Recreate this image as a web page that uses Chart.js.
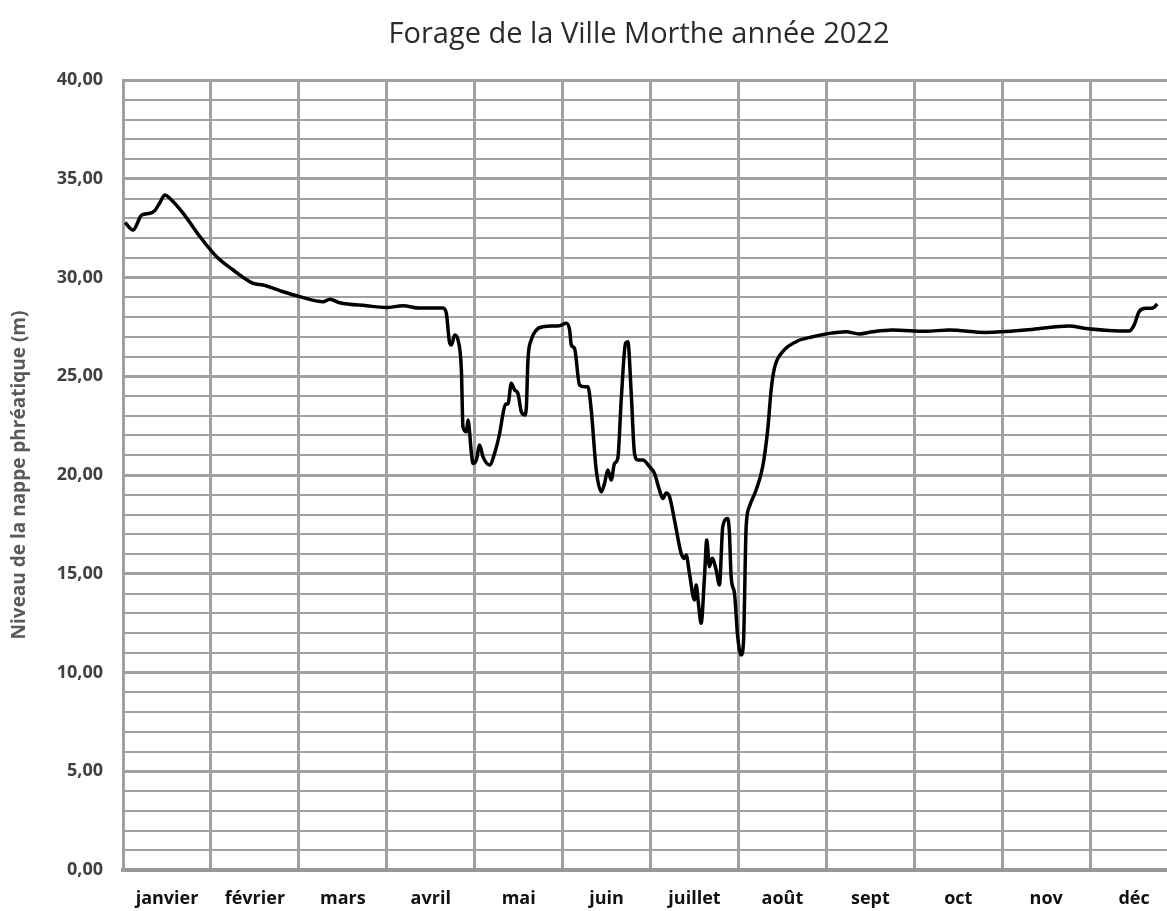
<!DOCTYPE html>
<html lang="fr">
<head>
<meta charset="utf-8">
<title>Forage de la Ville Morthe année 2022</title>
<script src="https://cdn.jsdelivr.net/npm/chart.js@4.4.1/dist/chart.umd.min.js"></script>
<style>
  html, body { margin: 0; padding: 0; background: #fff; overflow: hidden; }
  #cadre { position: relative; width: 1196px; height: 911px; }
</style>
</head>
<body>
<div id="cadre"><canvas id="graphique"></canvas></div>
<script>
// libellés des mois (centrés dans chaque colonne)
const moisLabels = ["janvier", "février", "mars", "avril", "mai", "juin",
  "juillet", "août", "sept", "oct", "nov", "déc"];

// position dans l'année, en mois écoulés depuis le 1er janvier
const mois = [
  0.023, 0.114, 0.213, 0.307, 0.364, 0.420, 0.477, 0.534, 0.685, 0.875,
  1.065, 1.253, 1.481, 1.594, 1.821, 2.011, 2.276, 2.352, 2.466, 2.769,
  2.997, 3.185, 3.375, 3.640, 3.678, 3.716, 3.735, 3.773, 3.810, 3.849,
  3.867, 3.906, 3.924, 3.963, 3.981, 4.019, 4.057, 4.094, 4.170, 4.227,
  4.284, 4.322, 4.352, 4.378, 4.417, 4.455, 4.492, 4.531, 4.568, 4.588,
  4.606, 4.644, 4.701, 4.776, 4.966, 5.042, 5.080, 5.099, 5.136, 5.193,
  5.250, 5.288, 5.326, 5.383, 5.440, 5.477, 5.515, 5.553, 5.591, 5.628,
  5.667, 5.716, 5.742, 5.781, 5.818, 5.856, 5.913, 5.989, 6.045, 6.102,
  6.140, 6.178, 6.216, 6.273, 6.349, 6.386, 6.406, 6.443, 6.500, 6.519,
  6.549, 6.576, 6.614, 6.640, 6.670, 6.701, 6.747, 6.784, 6.822, 6.878,
  6.898, 6.917, 6.955, 6.992, 7.031, 7.057, 7.088, 7.125, 7.201, 7.276,
  7.333, 7.372, 7.409, 7.503, 7.656, 7.844, 8.034, 8.224, 8.375, 8.526,
  8.753, 9.133, 9.398, 9.815, 10.341, 10.761, 10.951, 11.443, 11.500, 11.557,
  11.633, 11.708, 11.765
];

// niveau de la nappe phréatique (m)
const niveau = [
  32.78, 32.40, 33.16, 33.25, 33.40, 33.80, 34.18, 34.00, 33.25, 32.07,
  31.05, 30.38, 29.70, 29.62, 29.28, 29.03, 28.77, 28.90, 28.72, 28.57,
  28.48, 28.57, 28.45, 28.45, 28.18, 26.67, 26.58, 27.09, 26.84, 25.30,
  22.44, 22.19, 22.78, 21.10, 20.58, 20.76, 21.52, 20.93, 20.51, 21.10,
  22.10, 23.10, 23.60, 23.60, 24.64, 24.30, 24.13, 23.20, 23.04, 23.45,
  25.82, 26.84, 27.34, 27.51, 27.56, 27.68, 27.34, 26.58, 26.41, 24.56,
  24.47, 24.47, 23.29, 20.25, 19.15, 19.57, 20.25, 19.75, 20.59, 20.84,
  23.80, 26.67, 26.75, 24.13, 21.10, 20.76, 20.76, 20.42, 20.08, 19.24,
  18.81, 19.09, 18.91, 17.72, 16.03, 15.77, 15.95, 15.02, 13.67, 14.43,
  13.33, 12.49, 14.85, 16.71, 15.36, 15.78, 15.19, 14.43, 17.38, 17.80,
  17.04, 14.85, 14.01, 11.81, 10.89, 11.47, 17.38, 18.40, 19.24, 20.42,
  22.28, 24.30, 25.40, 26.24, 26.75, 27.00, 27.17, 27.25, 27.14, 27.25,
  27.34, 27.28, 27.34, 27.22, 27.37, 27.55, 27.42, 27.29, 27.59, 28.27,
  28.44, 28.44, 28.66
];

const GRIS = "#a0a0a0";

const points = mois.map((m, i) => ({ x: m, y: niveau[i] }));

// le titre est centré un peu à gauche du milieu de la zone de tracé
const placeTitre = {
  id: "placeTitre",
  afterLayout(chart) {
    const t = chart.titleBlock;
    t.left = 100;
    t.right = 1178;
  }
};

new Chart(document.getElementById("graphique"), {
  type: "line",
  data: {
    datasets: [{
      label: "Niveau",
      data: points,
      borderColor: "#000",
      borderWidth: 3.5,
      pointRadius: 0,
      fill: false,
      cubicInterpolationMode: "monotone"
    }]
  },
  options: {
    responsive: true,
    maintainAspectRatio: false,
    animation: false,
    layout: { padding: 0 },
    plugins: {
      legend: { display: false },
      tooltip: { enabled: false },
      title: {
        display: true,
        fullSize: false,
        text: "Forage de la Ville Morthe année 2022",
        color: "#2b2b2b",
        font: { family: "'Open Sans', sans-serif", size: 29, weight: "normal" },
        padding: { top: 17, bottom: 28.2 }
      }
    },
    scales: {
      x: {
        type: "linear",
        min: 0,
        max: 12,
        afterFit: s => { s.height = 41; },
        border: { color: "#999", width: 4 },
        grid: { color: GRIS, lineWidth: 3, drawTicks: false },
        ticks: {
          stepSize: 1,
          autoSkip: false,
          maxRotation: 0,
          padding: 18,
          labelOffset: 44,
          color: "#111",
          font: { family: "'Open Sans', sans-serif", size: 18, weight: "bold" },
          callback: v => moisLabels[v] || ""
        }
      },
      y: {
        min: 0,
        max: 40,
        afterFit: s => { s.width = 123; },
        border: { color: GRIS, width: 3 },
        grid: {
          color: GRIS,
          drawTicks: false,
          lineWidth: c => (c.tick && c.tick.value % 5 === 0) ? 3 : 2
        },
        ticks: {
          stepSize: 1,
          autoSkip: false,
          padding: 20,
          color: "#404040",
          font: { family: "'Open Sans', sans-serif", size: 18, weight: "bold" },
          callback: v => v % 5 === 0 ? v.toFixed(2).replace(".", ",") : ""
        },
        title: {
          display: true,
          text: "Niveau de la nappe phréatique (m)",
          color: "#595959",
          font: { family: "'Open Sans', sans-serif", size: 19, weight: "bold" },
          padding: { top: 8, bottom: 0 }
        }
      }
    }
  },
  plugins: [placeTitre]
});
</script>
</body>
</html>
